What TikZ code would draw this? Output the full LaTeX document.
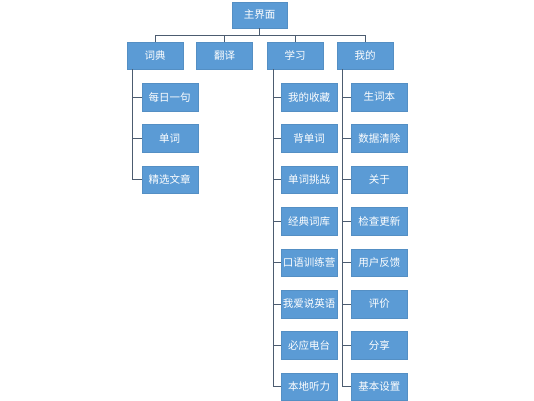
\documentclass[tikz,border=0pt]{standalone}
\usepackage{fontspec}
\usepackage{tikz}
\newfontfamily\cjk{Noto Sans CJK SC}
\definecolor{boxblue}{RGB}{91,155,213}
\definecolor{linegray}{RGB}{76,92,112}
\tikzset{
  menubox/.style={draw=boxblue!92!black,line width=0.4pt,fill=boxblue,text=white,
    minimum width=56pt,minimum height=27.5pt,inner sep=0pt,font=\cjk\fontsize{10.5}{12}\selectfont},
  link/.style={draw=linegray,line width=0.8pt}
}
\begin{document}
\begin{tikzpicture}[x=1pt,y=-1pt]
  \useasboundingbox (0,0) rectangle (534,400);

  %main screen
  \node[menubox,minimum width=55pt,minimum height=26pt] (main) at (259.5,15) {主界面};

  %top-level tabs
  \node[menubox] (dict)  at (155,55.5) {词典};
  \node[menubox] (trans) at (224.5,55.5) {翻译};
  \node[menubox] (learn) at (295,55.5) {学习};
  \node[menubox] (mine)  at (365,55.5) {我的};
  \foreach \t in {dict,trans,learn,mine}
    \draw[link] (main.south) -- ++(0,7) -| (\t.north);

  %dictionary items
  \foreach \name [count=\i] in {每日一句,单词,精选文章} {
    \node[menubox] (d\i) at (169.7,{97+41.4*(\i-1)}) {\name};
    \draw[link] ([xshift=5.5pt]dict.south west) |- (d\i.west);
  }

  %learning items
  \foreach \name [count=\i] in {我的收藏,背单词,单词挑战,经典词库,口语训练营,我爱说英语,必应电台,本地听力} {
    \node[menubox] (l\i) at (309.2,{97+41.4*(\i-1)}) {\name};
    \draw[link] ([xshift=6.5pt]learn.south west) |- (l\i.west);
  }

  %my items
  \foreach \name [count=\i] in {生词本,数据清除,关于,检查更新,用户反馈,评价,分享,基本设置} {
    \node[menubox] (m\i) at (379.4,{97+41.4*(\i-1)}) {\name};
    \draw[link] ([xshift=5.5pt]mine.south west) |- (m\i.west);
  }
\end{tikzpicture}
\end{document}
